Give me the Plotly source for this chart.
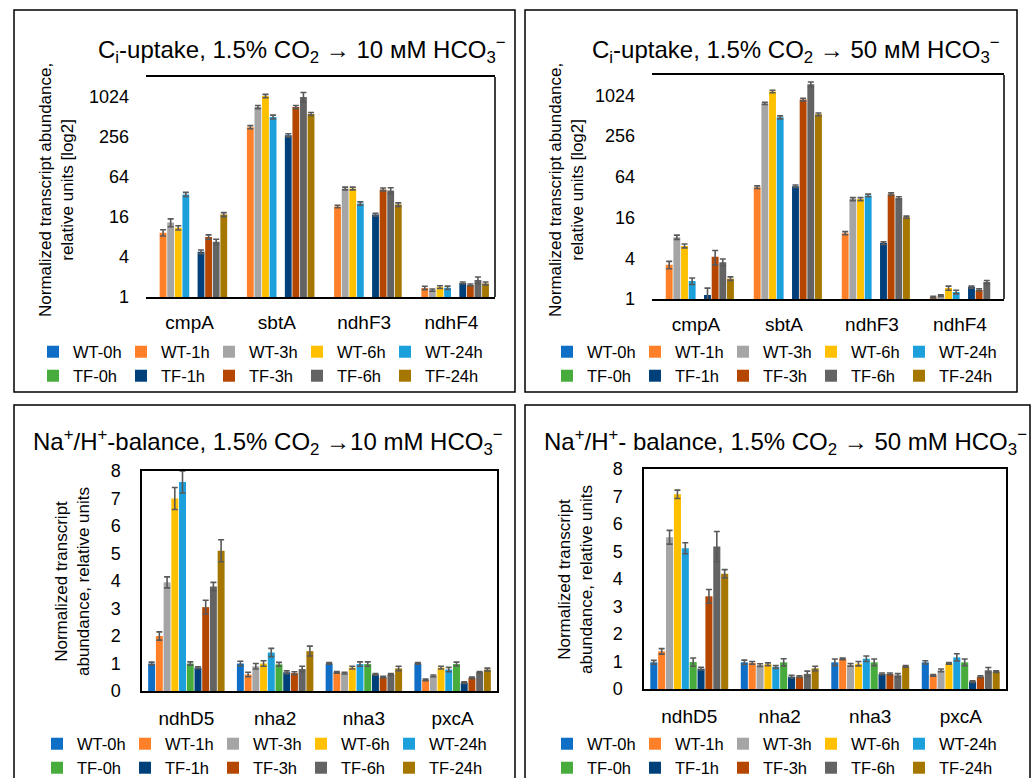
import math
import plotly.graph_objects as go

W, H = 1032, 778

# ---------------- data ----------------
series = ["WT-0h", "WT-1h", "WT-3h", "WT-6h", "WT-24h",
          "TF-0h", "TF-1h", "TF-3h", "TF-6h", "TF-24h"]
colors = ["#0F6FC6", "#FF8028", "#A5A5A5", "#FFC000", "#1CA0DC",
          "#48AC3C", "#00407A", "#B54600", "#636363", "#A57700"]

genes_ci = ["cmpA", "sbtA", "ndhF3", "ndhF4"]
genes_na = ["ndhD5", "nha2", "nha3", "pxcA"]

# Ci-uptake, 10 mM (rows = series, cols = genes_ci)
ci10_vals = [
    [1, 1, 1, 1],
    [9.3, 360, 23, 1.37],
    [13.2, 724, 43, 1.27],
    [11, 1060, 43, 1.41],
    [35, 512, 25.5, 1.38],
    [1, 1, 1, 1],
    [4.8, 272, 17.4, 1.63],
    [8, 724, 41.6, 1.52],
    [6.8, 1024, 40, 1.8],
    [17.4, 568, 24.6, 1.6],
]
ci10_err = [
    None,
    [1.0, 20, 1.0, 0.08],
    [1.8, 40, 2.0, 0.05],
    [0.8, 60, 2.0, 0.07],
    [2.5, 35, 1.5, 0.08],
    None,
    [0.3, 15, 0.8, 0.05],
    [0.6, 40, 2.0, 0.05],
    [0.6, 170, 4.0, 0.2],
    [1.2, 30, 1.5, 0.08],
]

# Ci-uptake, 50 mM
ci50_vals = [
    [1, 1, 1, 1],
    [3.2, 45, 9.4, 1.07],
    [8.2, 780, 30, 1.12],
    [6.1, 1170, 30, 1.45],
    [1.84, 485, 34, 1.27],
    [1, 1, 1, 1],
    [1.15, 46.5, 6.7, 1.5],
    [4.2, 890, 35.5, 1.36],
    [3.5, 1490, 31, 1.78],
    [2.0, 537, 16.2, 0.95],
]
ci50_err = [
    None,
    [0.4, 2, 0.5, 0.03],
    [0.6, 30, 1.5, 0.03],
    [0.4, 50, 1.5, 0.1],
    [0.2, 25, 1.5, 0.08],
    None,
    [0.3, 2, 0.3, 0.05],
    [1.0, 40, 1.5, 0.05],
    [0.4, 120, 1.5, 0.1],
    [0.12, 25, 0.6, 0.02],
]

# Na+/H+-balance, 10 mM (rows = series, cols = genes_na)
na10_vals = [
    [1.0, 1.0, 1.0, 1.0],
    [2.0, 0.6, 0.68, 0.4],
    [3.95, 0.9, 0.65, 0.55],
    [7.0, 1.0, 0.85, 0.85],
    [7.6, 1.4, 0.98, 0.78],
    [1.0, 0.97, 0.98, 0.98],
    [0.85, 0.68, 0.6, 0.3],
    [3.05, 0.65, 0.5, 0.48],
    [3.8, 0.8, 0.6, 0.68],
    [5.1, 1.45, 0.82, 0.78],
]
na10_err = [
    [0.05, 0.08, 0.03, 0.03],
    [0.15, 0.08, 0.03, 0.03],
    [0.2, 0.1, 0.03, 0.03],
    [0.4, 0.1, 0.05, 0.05],
    [0.4, 0.15, 0.08, 0.08],
    [0.06, 0.07, 0.08, 0.07],
    [0.03, 0.05, 0.03, 0.03],
    [0.25, 0.05, 0.03, 0.03],
    [0.15, 0.1, 0.03, 0.03],
    [0.4, 0.18, 0.08, 0.05],
]

# Na+/H+-balance, 50 mM
na50_vals = [
    [0.97, 0.97, 0.97, 0.97],
    [1.37, 0.95, 1.1, 0.5],
    [5.52, 0.87, 0.88, 0.68],
    [7.08, 0.9, 0.92, 0.93],
    [5.12, 0.8, 1.1, 1.15],
    [0.98, 0.97, 0.97, 0.97],
    [0.74, 0.45, 0.55, 0.27],
    [3.37, 0.45, 0.55, 0.45],
    [5.18, 0.55, 0.5, 0.68],
    [4.19, 0.75, 0.82, 0.63],
]
na50_err = [
    [0.07, 0.08, 0.12, 0.06],
    [0.1, 0.05, 0.03, 0.03],
    [0.25, 0.05, 0.05, 0.05],
    [0.15, 0.05, 0.08, 0.03],
    [0.2, 0.05, 0.1, 0.13],
    [0.15, 0.13, 0.12, 0.12],
    [0.05, 0.05, 0.03, 0.03],
    [0.25, 0.03, 0.03, 0.03],
    [0.55, 0.1, 0.06, 0.1],
    [0.15, 0.08, 0.03, 0.03],
]

top_ticks = [1, 4, 16, 64, 256, 1024]
bottom_ticks = [0, 1, 2, 3, 4, 5, 6, 7, 8]

titles = [
    "C<sub>i</sub>-uptake, 1.5% CO<sub>2</sub> → 10 мM HCO<sub>3</sub><sup>−</sup>",
    "C<sub>i</sub>-uptake, 1.5% CO<sub>2</sub> → 50 мM HCO<sub>3</sub><sup>−</sup>",
    "Na<sup>+</sup>/H<sup>+</sup>-balance, 1.5% CO<sub>2</sub> →10 mM HCO<sub>3</sub><sup>−</sup>",
    "Na<sup>+</sup>/H<sup>+</sup>- balance, 1.5% CO<sub>2</sub> → 50 mM HCO<sub>3</sub><sup>−</sup>",
]
ytitle_top = "Normalized transcript abundance,<br>relative units [log2]"
ytitle_bottom = "Normalized transcript<br>abundance, relative units"

# ---------------- helpers ----------------
FONT = "Liberation Sans, Arial, sans-serif"


def px(x):
    return x / W


def py(y):
    return 1 - y / H


fig = go.Figure()

panels = [
    ("x", "y", genes_ci, ci10_vals, ci10_err, "legend", "legend2"),
    ("x2", "y2", genes_ci, ci50_vals, ci50_err, "legend3", "legend4"),
    ("x3", "y3", genes_na, na10_vals, na10_err, "legend5", "legend6"),
    ("x4", "y4", genes_na, na50_vals, na50_err, "legend7", "legend8"),
]

for xa, ya, genes, vals, errs, lgA, lgB in panels:
    for i, name in enumerate(series):
        err = errs[i]
        fig.add_trace(go.Bar(
            x=genes, y=vals[i], name=name,
            marker=dict(color=colors[i], line=dict(width=0)),
            error_y=dict(type="data", array=err if err else [0, 0, 0, 0],
                         visible=err is not None,
                         color="#595959", thickness=1.6, width=3),
            xaxis=xa, yaxis=ya,
            legend=lgA if i < 5 else lgB,
            showlegend=True,
        ))

# plot-area geometry in pixels: (x0, x1, ytop, ybottom)
geo = {
    "1": (146, 495, 77, 297),
    "2": (652, 1004, 75, 299),
    "3": (142, 497, 471, 691),
    "4": (644, 1006, 469, 689),
}

axfont = dict(family=FONT, size=18, color="black")
catfont = dict(family=FONT, size=19, color="black")

layout = dict(
    width=W, height=H,
    margin=dict(l=0, r=0, t=0, b=0, autoexpand=False),
    paper_bgcolor="white", plot_bgcolor="white",
    barmode="group", bargap=0.13, bargroupgap=0.1,
    font=dict(family=FONT, color="black"),
)

for k, (x0, x1, yt, yb) in geo.items():
    suffix = "" if k == "1" else k
    islog = k in ("1", "2")
    layout["xaxis" + suffix] = dict(
        domain=[px(x0), px(x1)], anchor="y" + suffix, automargin=False,
        showline=True, linecolor="black", linewidth=1.5, mirror=True,
        showgrid=False, ticks="", tickfont=catfont,
        ticklabelstandoff=7 if islog else 9,
        fixedrange=True,
    )
    if islog:
        layout["yaxis" + suffix] = dict(
            domain=[py(yb), py(yt)], anchor="x" + suffix, automargin=False,
            type="log", range=[0, math.log10(2048)],
            tickvals=top_ticks, ticktext=[str(t) for t in top_ticks],
            showline=False, showgrid=False, zeroline=False, ticks="",
            tickfont=axfont, ticklabelstandoff=16,
        )
    else:
        layout["yaxis" + suffix] = dict(
            domain=[py(yb), py(yt)], anchor="x" + suffix, automargin=False,
            range=[0, 8], tickvals=bottom_ticks,
            showline=True, linecolor="black", linewidth=1.5, mirror=True,
            showgrid=False, zeroline=False, ticks="",
            tickfont=axfont, ticklabelstandoff=16,
        )

# legends: (legend x px, row y px)
legend_pos = {
    "legend": (33, 352), "legend2": (33, 376),
    "legend3": (547, 352), "legend4": (547, 376),
    "legend5": (37, 744), "legend6": (37, 768),
    "legend7": (547, 744), "legend8": (547, 768),
}
for lg, (lx, ly) in legend_pos.items():
    layout[lg] = dict(
        orientation="h", x=px(lx), y=py(ly), xanchor="left", yanchor="middle",
        font=dict(family=FONT, size=16.5, color="black"),
        bgcolor="rgba(0,0,0,0)", borderwidth=0,
        entrywidth=43, entrywidthmode="pixels", tracegroupgap=0,
        itemclick=False, itemdoubleclick=False,
    )

fig.update_layout(**layout)

# panel frames
frames = [(14, 515, 10, 392), (525, 1017, 10, 392),
          (14, 515, 405, 800), (525, 1030, 405, 800)]
for fx0, fx1, fy0, fy1 in frames:
    fig.add_shape(type="rect", xref="paper", yref="paper",
                  x0=px(fx0), x1=px(fx1), y0=py(fy1), y1=py(fy0),
                  line=dict(color="black", width=1.5), fillcolor="rgba(0,0,0,0)",
                  layer="above")

# right border of top plot areas
for xr, yr in (("x", "y"), ("x2", "y2")):
    fig.add_shape(type="line", xref=xr + " domain", yref=yr + " domain",
                  x0=1, x1=1, y0=0, y1=1,
                  line=dict(color="black", width=1.5))

# titles
title_pos = [(302, 50), (796, 50), (268, 442), (785, 442)]
for t, (tx, ty) in zip(titles, title_pos):
    fig.add_annotation(text=t, x=px(tx), y=py(ty), xref="paper", yref="paper",
                       showarrow=False, xanchor="center", yanchor="middle",
                       font=dict(family=FONT, size=24, color="black"))

# y-axis titles
ytitle_pos = [(ytitle_top, 57, 190), (ytitle_top, 567, 190),
              (ytitle_bottom, 72, 582), (ytitle_bottom, 575, 580)]
for t, tx, ty in ytitle_pos:
    fig.add_annotation(text=t, x=px(tx), y=py(ty), xref="paper", yref="paper",
                       showarrow=False, textangle=-90,
                       xanchor="center", yanchor="middle",
                       font=dict(family=FONT, size=17, color="black"))

post = (
    "document.body.style.margin='0';"
    "document.querySelectorAll('g.scrollbox').forEach(function(e){"
    "e.removeAttribute('clip-path');});"
)
fig.write_html("out.html", config={"displayModeBar": False}, post_script=post)
